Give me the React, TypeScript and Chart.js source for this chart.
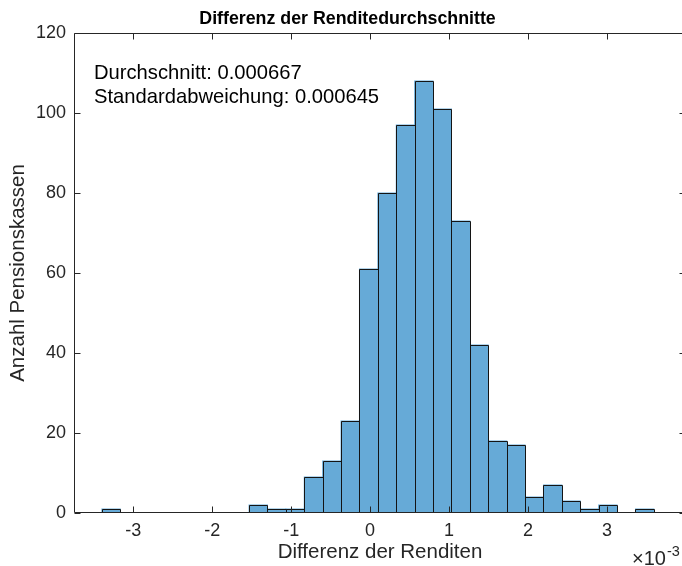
import React, { useEffect, useRef } from 'react';
import { Chart, registerables } from 'chart.js';

Chart.register(...registerables);

// ---- data (x values in units of 1e-3) ----
const binCenters = [
  -3.2805, -3.0475, -2.8145, -2.5815, -2.3485, -2.1155, -1.8825, -1.6495,
  -1.4165, -1.1835, -0.9505, -0.7175, -0.4845, -0.2515, -0.0185, 0.2145,
  0.4475, 0.6805, 0.9135, 1.1465, 1.3795, 1.6125, 1.8455, 2.0785,
  2.3115, 2.5445, 2.7775, 3.0105, 3.2435, 3.4765,
];
const counts = [
  1, 0, 0, 0, 0, 0, 0, 0,
  2, 1, 1, 9, 13, 23, 61, 80,
  97, 108, 101, 73, 42, 18, 17, 4,
  7, 3, 1, 2, 0, 1,
];
const xTicks = [-3, -2, -1, 0, 1, 2, 3];
const yTicks = [0, 20, 40, 60, 80, 100, 120];
const xRange = [-3.75, 4];
const yRange = [0, 120];
const titleText = 'Differenz der Renditedurchschnitte';
const xLabelText = 'Differenz der Renditen';
const yLabelText = 'Anzahl Pensionskassen';
const statLines = ['Durchschnitt: 0.000667', 'Standardabweichung: 0.000645'];
const exponentBase = '×10';
const exponentPower = '-3';

const FONT = "'Liberation Sans', Arial, Helvetica, sans-serif";
const AXIS_COLOR = 'rgb(38,38,38)';
const BAR_FILL = 'rgb(102,170,215)';
const BAR_EDGE = 'rgb(20,20,20)';

const decoPlugin = {
  id: 'deco',
  afterDatasetsDraw(chart: any) {
    const { ctx, chartArea } = chart;
    const { left, right, top, bottom } = chartArea;
    const xs = chart.scales.x;
    const ys = chart.scales.y;
    ctx.save();
    // bar outlines from the bar elements' geometry
    const meta = chart.getDatasetMeta(0);
    ctx.strokeStyle = BAR_EDGE;
    ctx.lineWidth = 1;
    ctx.beginPath();
    meta.data.forEach((bar: any, i: number) => {
      if (!counts[i]) return;
      const p = bar.getProps(['x', 'y', 'base', 'width'], true);
      const x0 = Math.round(p.x - p.width / 2) + 0.5;
      const x1 = Math.round(p.x + p.width / 2) + 0.5;
      const y0 = Math.round(p.y) + 0.5;
      const yb = Math.round(p.base) - 0.5;
      ctx.moveTo(x0, yb); ctx.lineTo(x0, y0); ctx.lineTo(x1, y0); ctx.lineTo(x1, yb);
    });
    ctx.stroke();

    const L = Math.round(left) + 0.5;
    const R = Math.round(right) - 0.5;
    const T = Math.round(top) + 0.5;
    const B = Math.round(bottom) - 0.5;
    ctx.strokeStyle = AXIS_COLOR;
    ctx.lineWidth = 1;
    ctx.beginPath();
    ctx.moveTo(L, T); ctx.lineTo(R, T); ctx.lineTo(R, B); ctx.lineTo(L, B); ctx.closePath();
    const tl = 6;
    xTicks.forEach((t) => {
      const px = Math.round(xs.getPixelForValue(t)) + 0.5;
      ctx.moveTo(px, B); ctx.lineTo(px, B - tl);
      ctx.moveTo(px, T); ctx.lineTo(px, T + tl);
    });
    yTicks.forEach((t) => {
      const py = Math.round(ys.getPixelForValue(t)) + 0.5;
      ctx.moveTo(L, py); ctx.lineTo(L + tl, py);
      ctx.moveTo(R, py); ctx.lineTo(R - tl, py);
    });
    ctx.stroke();
    ctx.restore();
  },
  afterDraw(chart: any) {
    const { ctx, chartArea } = chart;
    ctx.save();
    // title
    ctx.fillStyle = '#000';
    ctx.textAlign = 'center';
    ctx.textBaseline = 'alphabetic';
    ctx.font = `bold 17.8px ${FONT}`;
    ctx.fillText(titleText, 347.5, 24);
    // x label
    ctx.fillStyle = AXIS_COLOR;
    ctx.font = `20.5px ${FONT}`;
    ctx.fillText(xLabelText, (chartArea.left + chartArea.right) / 2, 558);
    // y label
    ctx.save();
    ctx.translate(24, (chartArea.top + chartArea.bottom) / 2);
    ctx.rotate(-Math.PI / 2);
    ctx.fillText(yLabelText, 0, 0);
    ctx.restore();
    // annotation
    ctx.fillStyle = '#000';
    ctx.textAlign = 'left';
    ctx.font = `20.2px ${FONT}`;
    statLines.forEach((s, i) => ctx.fillText(s, 94, 79 + i * 24));
    // exponent
    ctx.fillStyle = AXIS_COLOR;
    ctx.font = `20px ${FONT}`;
    ctx.fillText(exponentBase, 632, 565);
    const w = ctx.measureText(exponentBase).width;
    ctx.font = `14.5px ${FONT}`;
    ctx.fillText(exponentPower, 632 + w + 1, 556);
    ctx.restore();
  },
};

export default function App() {
  const canvasRef = useRef<HTMLCanvasElement | null>(null);

  useEffect(() => {
    const canvas = canvasRef.current;
    if (!canvas) return;
    const chart = new Chart(canvas, {
      type: 'bar',
      data: {
        datasets: [
          {
            data: binCenters.map((x, i) => ({ x, y: counts[i] })),
            backgroundColor: BAR_FILL,
            borderWidth: 0,
            barPercentage: 1,
            categoryPercentage: 1,
            inflateAmount: 0.5,
          } as any,
        ],
      },
      options: {
        responsive: false,
        animation: false,
        events: [],
        layout: { padding: { left: 0, top: 33, right: 14, bottom: 0 } },
        plugins: {
          legend: { display: false },
          tooltip: { enabled: false },
          title: { display: false },
        },
        scales: {
          x: {
            type: 'linear',
            offset: false,
            min: xRange[0],
            max: xRange[1],
            afterBuildTicks: (s: any) => {
              s.ticks = xTicks.map((v) => ({ value: v }));
            },
            afterFit: (s: any) => {
              s.height = 53;
            },
            grid: { display: false, drawTicks: false, offset: false },
            border: { display: false },
            ticks: {
              font: { family: FONT, size: 18 },
              color: AXIS_COLOR,
              padding: 7,
              maxRotation: 0,
              autoSkip: false,
            },
          },
          y: {
            type: 'linear',
            min: yRange[0],
            max: yRange[1],
            afterBuildTicks: (s: any) => {
              s.ticks = yTicks.map((v) => ({ value: v }));
            },
            afterFit: (s: any) => {
              s.width = 74;
            },
            grid: { display: false, drawTicks: false },
            border: { display: false },
            ticks: {
              font: { family: FONT, size: 18 },
              color: AXIS_COLOR,
              padding: 8,
            },
          },
        },
      },
      plugins: [decoPlugin],
    } as any);
    return () => chart.destroy();
  }, []);

  return (
    <div
      style={{
        position: 'fixed',
        left: 0,
        top: 0,
        width: 682,
        height: 566,
        overflow: 'hidden',
        background: '#fff',
      }}
    >
      <canvas ref={canvasRef} width={700} height={566} style={{ display: 'block' }} />
    </div>
  );
}
